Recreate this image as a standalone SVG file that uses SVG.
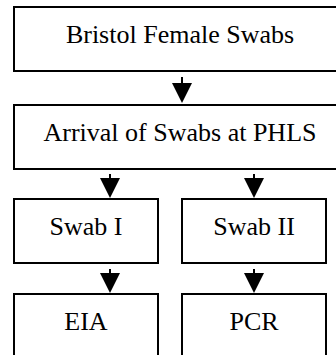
<svg xmlns="http://www.w3.org/2000/svg" width="336" height="355" viewBox="0 0 336 355">
  <style>
    .box { fill: #ffffff; stroke: #000000; stroke-width: 2; }
    .label { font-size: 26px; fill: #000000; text-anchor: middle; }
    .conn { stroke: #000000; stroke-width: 2; fill: none; marker-end: url(#head); }
  </style>
  <defs>
    <marker id="head" viewBox="0 0 20 20" markerUnits="userSpaceOnUse" markerWidth="20" markerHeight="20" refX="10" refY="10" orient="auto">
      <path d="M0,0 L20,10 L0,20 Z" fill="#000000"/>
    </marker>
  </defs>
  <rect width="336" height="355" fill="#ffffff"/>

  <g id="connectors">
    <line class="conn" x1="182" y1="77" x2="182" y2="93"/>
    <line class="conn" x1="110" y1="174" x2="110" y2="188"/>
    <line class="conn" x1="254" y1="174" x2="254" y2="188"/>
    <line class="conn" x1="110" y1="269" x2="110" y2="283"/>
    <line class="conn" x1="254" y1="269" x2="254" y2="283"/>
  </g>

  <g font-family="Liberation Serif, DejaVu Serif, serif">
    <g id="bristol-female-swabs">
      <rect class="box" x="14" y="7" width="332" height="64"/>
      <text class="label" x="180" y="43">Bristol Female Swabs</text>
    </g>
    <g id="arrival-at-phls">
      <rect class="box" x="14" y="105" width="332" height="64"/>
      <text class="label" x="180" y="141">Arrival of Swabs at PHLS</text>
    </g>
    <g id="swab-1">
      <rect class="box" x="14" y="199" width="144" height="64"/>
      <text class="label" x="86" y="235">Swab I</text>
    </g>
    <g id="swab-2">
      <rect class="box" x="182" y="199" width="144" height="64"/>
      <text class="label" x="254" y="235">Swab II</text>
    </g>
    <g id="eia">
      <rect class="box" x="14" y="294" width="144" height="70"/>
      <text class="label" x="86" y="330">EIA</text>
    </g>
    <g id="pcr">
      <rect class="box" x="182" y="294" width="144" height="70"/>
      <text class="label" x="254" y="330">PCR</text>
    </g>
  </g>
</svg>
